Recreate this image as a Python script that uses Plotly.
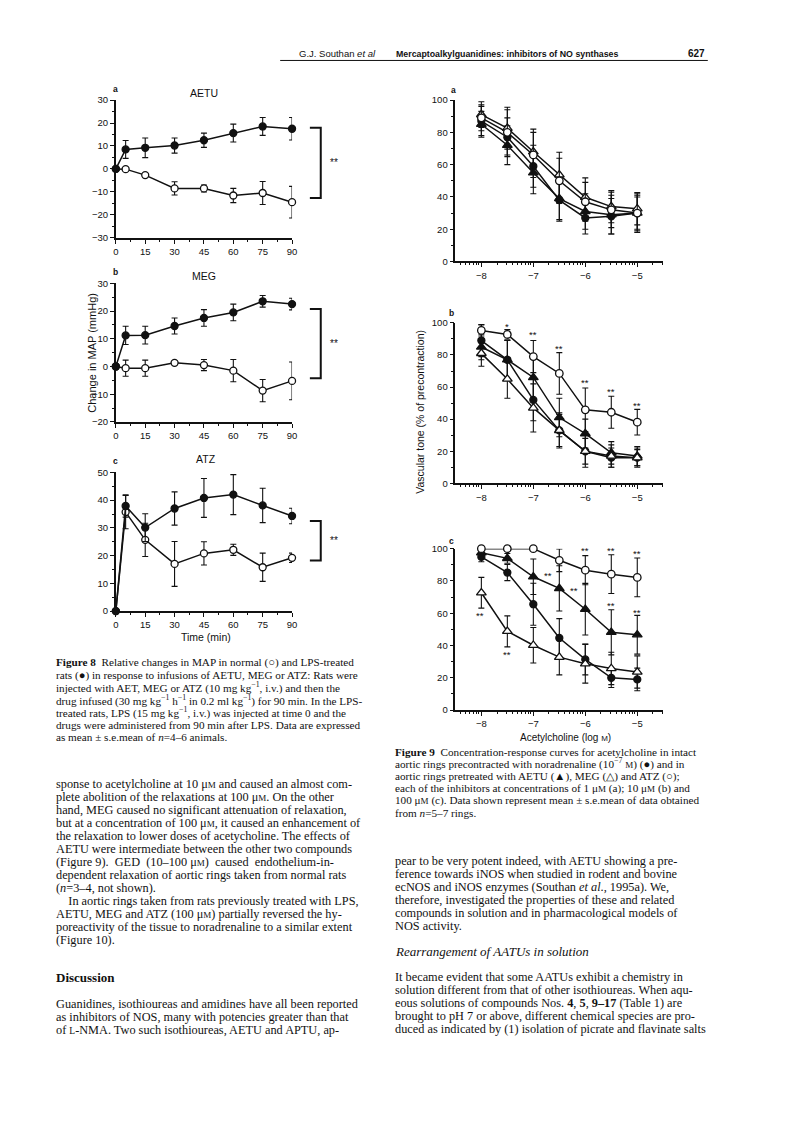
import math
import plotly.graph_objects as go

W, H = 791, 1135
def px(x): return x / W
def py(y): return 1 - y / H

# ---------------- DATA ----------------
# Figure 8: time (min) and change in MAP (mmHg)
time_min = [0, 5, 15, 30, 45, 60, 75, 90]
aetu_lps = [0, 8.5, 9.2, 10.2, 12.5, 15.6, 18.5, 17.5]
aetu_lps_err = [0, 3.9, 4.3, 3.3, 3.1, 3.9, 3.9, 4.9]
aetu_norm = [0, -0.1, -2.7, -8.5, -8.5, -11.6, -10.5, -14.5]
aetu_norm_err = [0, 0, 0.5, 2.9, 1.5, 3.1, 5.0, 6.9]

meg_lps = [0, 11.2, 11.3, 14.6, 17.5, 19.5, 23.5, 22.5]
meg_lps_err = [0, 3.3, 3.2, 2.9, 3.0, 3.0, 2.1, 2.1]
meg_norm = [0, -0.6, -0.6, 1.3, 0.5, -1.5, -8.7, -5.2]
meg_norm_err = [0, 2.9, 2.9, 0.7, 2.0, 4.0, 4.0, 6.8]

atz_lps = [0, 37.9, 30.1, 37.0, 40.8, 42.0, 38.1, 34.3]
atz_lps_err = [0, 4.0, 5.0, 6.0, 7.0, 7.2, 6.2, 2.8]
atz_norm = [0, 35.7, 25.7, 17.0, 20.8, 22.1, 15.8, 19.2]
atz_norm_err = [0, 6.0, 6.0, 8.1, 4.2, 2.0, 5.1, 1.7]

# Figure 9: acetylcholine (log M) and vascular tone (% of precontraction)
log_ach = [-8, -7.5, -7, -6.5, -6, -5.5, -5]
a_ctrl = [87, 77, 59, 38, 27, 28, 30]
a_ctrl_err = [9, 12, 13, 12, 10, 11, 10]
a_aetu = [85, 72, 55, 39, 31, 29, 30]
a_aetu_err = [8, 12, 13, 14, 11, 12, 11]
a_meg = [91, 82.6, 68, 53.7, 39.8, 34, 32.7]
a_meg_err = [8, 13, 14, 14, 12, 10, 10]
a_atz = [89, 80, 66, 50, 37, 32, 30]
a_atz_err = [8, 14, 14, 14, 12, 11, 12]

b_ctrl = [89, 77, 52, 33, 20, 16, 16]
b_ctrl_err = [10, 12, 13, 10, 8, 6, 5]
b_aetu = [85, 77, 66, 41, 31, 19, 17]
b_aetu_err = [8, 12, 14, 12, 9, 7, 6]
b_meg = [81, 65, 47, 33, 20, 17, 16]
b_meg_err = [8, 12, 15, 11, 10, 7, 6]
b_atz = [95.3, 92.8, 79, 68.5, 45.8, 44.3, 38.1]
b_atz_err = [3.5, 3, 10, 13, 13.6, 10, 8]

c_ctrl = [94.9, 85.2, 65.6, 44.7, 31.4, 20, 19]
c_ctrl_err = [3, 5, 13, 12, 9.6, 6, 7]
c_aetu = [97.5, 94, 82.6, 75.4, 62.5, 48.2, 46.7]
c_aetu_err = [3, 3, 11, 14, 16, 14, 12]
c_meg = [72.7, 48.8, 40.2, 32.8, 28.7, 25.8, 23.6]
c_meg_err = [9.5, 9.6, 11, 11, 12, 10, 10]
c_atz = [100, 100, 100, 92.8, 86.7, 84.2, 82.2]
c_atz_err = [0, 0, 0, 7, 9, 12, 12]

left_time_ticks = [0, 15, 30, 45, 60, 75, 90]
right_x_ticks = [-8, -7, -6, -5]

# significance marks (x, y in data units, label)
sig_b = [(-7.5, 98, "*"), (-7, 92.6, "**"), (-6.5, 84, "**"), (-6, 63, "**"),
         (-5.5, 57.4, "**"), (-5, 48.8, "**")]
sig_c = [(-7.5, 103.7, "**"), (-7, 103.7, "**"), (-6.5, 103, "**"), (-6, 98.8, "**"),
         (-5.5, 98.8, "**"), (-5, 97, "**"),
         (-6.72, 83.4, "**"), (-6.22, 74.2, "**"), (-5.5, 65, "**"), (-5, 60.7, "**"),
         (-8.02, 58.9, "**"), (-7.5, 34.4, "**")]

# ---------------- STYLE ----------------
SANS = "Liberation Sans, Arial, Helvetica, sans-serif"
NARROW = "Liberation Sans Narrow, Arial Narrow, Liberation Sans, sans-serif"
SERIF = "Liberation Serif, Times New Roman, serif"
BLK = "#111111"

fig = go.Figure()
annos = []
shapes = []

def add_series(x, y, err, filled, symbol, size, xa, ya):
    fig.add_trace(go.Scatter(
        x=x, y=y, mode="lines+markers", xaxis=xa, yaxis=ya, cliponaxis=False,
        line=dict(color=BLK, width=1.5),
        marker=dict(symbol=symbol, size=size, color=BLK if filled else "white",
                    line=dict(color=BLK, width=1.3)),
        error_y=dict(type="data", array=err, color=BLK, thickness=1.1, width=3),
        showlegend=False, hoverinfo="skip"))

axis_common = dict(showline=True, linecolor=BLK, linewidth=1.6, showgrid=False,
                   zeroline=False, ticks="outside", tickcolor=BLK, tickwidth=1.3,
                   ticklen=4, tickfont=dict(family=SANS, size=9.5, color=BLK))

left_panels = [
    dict(letter="a", title="AETU", lps=aetu_lps, lps_err=aetu_lps_err, norm=aetu_norm,
         norm_err=aetu_norm_err, yr=[-30, 30], top=95, bot=234, br=(123, 194)),
    dict(letter="b", title="MEG", lps=meg_lps, lps_err=meg_lps_err, norm=meg_norm,
         norm_err=meg_norm_err, yr=[-20, 30], top=280, bot=420, br=(306, 376)),
    dict(letter="c", title="ATZ", lps=atz_lps, lps_err=atz_lps_err, norm=atz_norm,
         norm_err=atz_norm_err, yr=[0, 50], top=471, bot=611, br=(520, 560)),
]

layout_axes = {}
for i, p in enumerate(left_panels):
    n = i + 1
    xa, ya = f"x{n}", f"y{n}"
    add_series(time_min, p["norm"], p["norm_err"], False, "circle", 7, xa, ya)
    add_series(time_min, p["lps"], p["lps_err"], True, "circle", 7, xa, ya)
    layout_axes[f"xaxis{n}"] = dict(axis_common, domain=[px(114), px(292)], range=[0, 90],
                                    anchor=ya, tickmode="array", tickvals=left_time_ticks,
                                    minor=dict(ticks="outside", dtick=7.5, tick0=0, ticklen=2.5,
                                               tickcolor=BLK, tickwidth=1))
    layout_axes[f"yaxis{n}"] = dict(axis_common, domain=[py(p["bot"]), py(p["top"])],
                                    range=p["yr"], anchor=xa, dtick=10, tick0=0,
                                    minor=dict(ticks="outside", dtick=5, tick0=0, ticklen=2.5,
                                               tickcolor=BLK, tickwidth=1))
    b0, b1 = p["br"]
    shapes.append(dict(type="path", xref="paper", yref="paper",
                       path=f"M {px(310)},{py(b0)} L {px(321)},{py(b0)} L {px(321)},{py(b1)} L {px(310)},{py(b1)}",
                       line=dict(color=BLK, width=2)))
    annos.append(dict(x=px(334), y=py((b0 + b1) / 2), text="**", font=dict(family=SANS, size=10, color=BLK)))

annos += [
    dict(x=px(114), y=py(84), text="<b>a</b>", font=dict(family=SANS, size=8.5, color=BLK)),
    dict(x=px(203), y=py(88), text="AETU", font=dict(family=SANS, size=10.5, color=BLK)),
    dict(x=px(114), y=py(269), text="<b>b</b>", font=dict(family=SANS, size=8.5, color=BLK)),
    dict(x=px(203), y=py(273), text="MEG", font=dict(family=SANS, size=10.5, color=BLK)),
    dict(x=px(114), y=py(459), text="<b>c</b>", font=dict(family=SANS, size=8.5, color=BLK)),
    dict(x=px(205), y=py(457), text="ATZ", font=dict(family=SANS, size=10.5, color=BLK)),
    dict(x=px(205), y=py(637), text="Time (min)", font=dict(family=SANS, size=10.5, color=BLK)),
    dict(x=px(90), y=py(350), text="Change in MAP (mmHg)", textangle=-90,
         font=dict(family=SANS, size=11, color=BLK)),
]

minor_x = []
for dec in [-9, -8, -7, -6, -5]:
    for k in range(2, 10):
        v = dec + math.log10(k)
        if -8.5 < v < -4.5:
            minor_x.append(v)

right_panels = [
    dict(letter="a", data=[(a_ctrl, a_ctrl_err), (a_aetu, a_aetu_err), (a_meg, a_meg_err), (a_atz, a_atz_err)],
         top=95, bot=258, lab=(455, 85), sig=[]),
    dict(letter="b", data=[(b_ctrl, b_ctrl_err), (b_aetu, b_aetu_err), (b_meg, b_meg_err), (b_atz, b_atz_err)],
         top=320, bot=482, lab=(453, 310), sig=sig_b),
    dict(letter="c", data=[(c_ctrl, c_ctrl_err), (c_aetu, c_aetu_err), (c_meg, c_meg_err), (c_atz, c_atz_err)],
         top=548, bot=711, lab=(453, 540), sig=sig_c),
]
styles = [(True, "circle", 7), (True, "triangle-up", 8.5), (False, "triangle-up", 8.5), (False, "circle", 7.5)]
for i, p in enumerate(right_panels):
    n = i + 4
    xa, ya = f"x{n}", f"y{n}"
    for (vals, errs), (filled, sym, sz) in zip(p["data"], styles):
        add_series(log_ach, vals, errs, filled, sym, sz, xa, ya)
    layout_axes[f"xaxis{n}"] = dict(axis_common, domain=[px(457), px(667)], range=[-8.5, -4.5],
                                    anchor=ya, tickmode="array", tickvals=right_x_ticks,
                                    minor=dict(ticks="outside", tickmode="array", tickvals=minor_x,
                                               ticklen=2, tickcolor=BLK, tickwidth=0.9))
    layout_axes[f"yaxis{n}"] = dict(axis_common, domain=[py(p["bot"]), py(p["top"])],
                                    range=[0, 100], anchor=xa, dtick=20, tick0=0,
                                    minor=dict(ticks="outside", dtick=10, tick0=0, ticklen=2.5,
                                               tickcolor=BLK, tickwidth=1))
    annos.append(dict(x=px(p["lab"][0]), y=py(p["lab"][1]), text=f"<b>{p['letter']}</b>",
                      font=dict(family=SANS, size=8.5, color=BLK)))
    for (sx, sy, st) in p["sig"]:
        annos.append(dict(x=sx, y=sy, xref=xa, yref=ya, text=st,
                          font=dict(family=SANS, size=9.5, color=BLK)))

annos += [
    dict(x=px(568), y=py(739), text="Acetylcholine (log <span style='font-size:8px'>M</span>)",
         font=dict(family=SANS, size=10, color=BLK)),
    dict(x=px(421), y=py(410), text="Vascular tone (% of precontraction)", textangle=-90,
         font=dict(family=SANS, size=10.5, color=BLK)),
]

# ---------------- HEADER ----------------
annos += [
    dict(x=px(297), y=py(48), xanchor="left", text="G.J. Southan <i>et al</i>",
         font=dict(family=NARROW, size=9.5, color=BLK)),
    dict(x=px(395), y=py(48), xanchor="left", text="<b>Mercaptoalkylguanidines: inhibitors of NO synthases</b>",
         font=dict(family=NARROW, size=8.8, color=BLK)),
    dict(x=px(711), y=py(48), xanchor="right", text="<b>627</b>",
         font=dict(family=SANS, size=10, color=BLK)),
]
shapes.append(dict(type="line", xref="paper", yref="paper", x0=px(280), x1=px(712),
                   y0=py(55), y1=py(55), line=dict(color=BLK, width=1)))

# ---------------- TEXT ----------------
SM = "<span style='font-size:9px'>M</span>"
cap8 = [
    "<b>Figure 8</b>  Relative changes in MAP in normal (○) and LPS-treated",
    "rats (●) in response to infusions of AETU, MEG or ATZ: Rats were",
    "injected with AET, MEG or ATZ (10 mg kg<sup>−1</sup>, i.v.) and then the",
    "drug infused (30 mg kg<sup>−1</sup> h<sup>−1</sup> in 0.2 ml kg<sup>−1</sup>) for 90 min. In the LPS-",
    "treated rats, LPS (15 mg kg<sup>−1</sup>, i.v.) was injected at time 0 and the",
    "drugs were administered from 90 min after LPS. Data are expressed",
    "as mean ± s.e.mean of <i>n</i>=4–6 animals.",
]
cap9 = [
    "<b>Figure 9</b>  Concentration-response curves for acetylcholine in intact",
    f"aortic rings precontracted with noradrenaline (10<sup>−7</sup> {SM}) (●) and in",
    "aortic rings pretreated with AETU (▲), MEG (△) and ATZ (○);",
    f"each of the inhibitors at concentrations of 1 μ{SM} (a); 10 μ{SM} (b) and",
    f"100 μ{SM} (c). Data shown represent mean ± s.e.mean of data obtained",
    "from <i>n</i>=5–7 rings.",
]
left_body = [
    f"sponse to acetylcholine at 10 μ{SM} and caused an almost com-",
    f"plete abolition of the relaxations at 100 μ{SM}. On the other",
    "hand, MEG caused no significant attenuation of relaxation,",
    f"but at a concentration of 100 μ{SM}, it caused an enhancement of",
    "the relaxation to lower doses of acetycholine. The effects of",
    "AETU were intermediate between the other two compounds",
    f"(Figure 9).  GED  (10–100 μ{SM})  caused  endothelium-in-",
    "dependent relaxation of aortic rings taken from normal rats",
    "(<i>n</i>=3–4, not shown).",
    "    In aortic rings taken from rats previously treated with LPS,",
    f"AETU, MEG and ATZ (100 μ{SM}) partially reversed the hy-",
    "poreactivity of the tissue to noradrenaline to a similar extent",
    "(Figure 10).",
]
left_body2 = [
    "Guanidines, isothioureas and amidines have all been reported",
    "as inhibitors of NOS, many with potencies greater than that",
    "of <span style='font-size:9.5px'>L</span>-NMA. Two such isothioureas, AETU and APTU, ap-",
]
right_body = [
    "pear to be very potent indeed, with AETU showing a pre-",
    "ference towards iNOS when studied in rodent and bovine",
    "ecNOS and iNOS enzymes (Southan <i>et al</i>., 1995a). We,",
    "therefore, investigated the properties of these and related",
    "compounds in solution and in pharmacological models of",
    "NOS activity.",
]
right_body2 = [
    "It became evident that some AATUs exhibit a chemistry in",
    "solution different from that of other isothioureas. When aqu-",
    "eous solutions of compounds Nos. <b>4</b>, <b>5</b>, <b>9–17</b> (Table 1) are",
    "brought to pH 7 or above, different chemical species are pro-",
    "duced as indicated by (1) isolation of picrate and flavinate salts",
]

def add_lines(lines, x0, y0, step, size):
    for k, s in enumerate(lines):
        annos.append(dict(x=px(x0), y=py(y0 + k * step), xanchor="left", text=s,
                          font=dict(family=SERIF, size=size, color=BLK)))

add_lines(cap8, 52, 663, 12.6, 11.2)
add_lines(cap9, 394, 753, 12.3, 11.2)
add_lines(left_body, 52, 786, 13.1, 12.3)
add_lines(left_body2, 52, 1008, 13.1, 12.3)
add_lines(right_body, 394, 863, 13.1, 12.3)
add_lines(right_body2, 394, 981, 13.1, 12.3)
annos.append(dict(x=px(52), y=py(981), xanchor="left", text="<b>Discussion</b>",
                  font=dict(family=SERIF, size=13, color=BLK)))
annos.append(dict(x=px(394), y=py(955), xanchor="left", text="<i>Rearrangement of AATUs in solution</i>",
                  font=dict(family=SERIF, size=13, color=BLK)))

for a in annos:
    a.setdefault("xref", "paper")
    a.setdefault("yref", "paper")
    a.setdefault("showarrow", False)
    a.setdefault("xanchor", "center")
    a.setdefault("yanchor", "middle")

fig.update_layout(width=W, height=H, autosize=False, margin=dict(l=0, r=0, t=0, b=0),
                  paper_bgcolor="white", plot_bgcolor="white", showlegend=False,
                  annotations=annos, shapes=shapes, **layout_axes)

fig.write_html("out.html", config={"displayModeBar": False},
               post_script="document.body.style.margin='0';")
